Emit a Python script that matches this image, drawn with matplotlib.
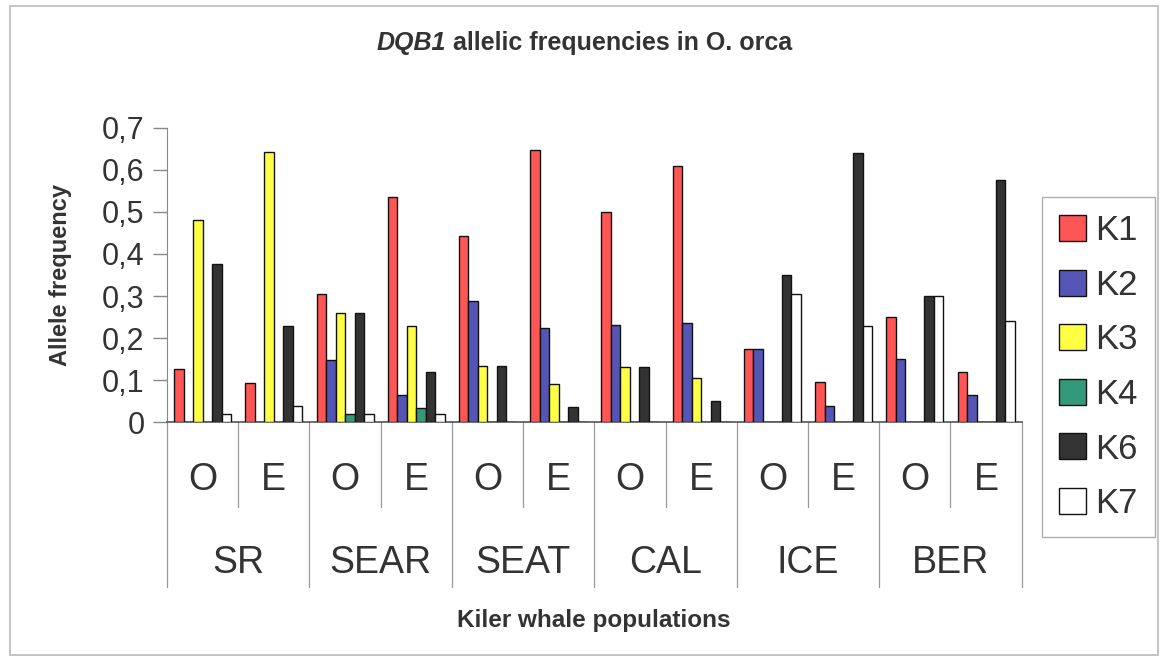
import matplotlib.pyplot as plt
from matplotlib.patches import Rectangle
import matplotlib.transforms as mtransforms
import numpy as np

plt.rcParams['font.family'] = ['Liberation Sans', 'DejaVu Sans']

# populations and sample types
populations = ['SR', 'SEAR', 'SEAT', 'CAL', 'ICE', 'BER']
subgroups = ['O', 'E']
alleles = ['K1', 'K2', 'K3', 'K4', 'K6', 'K7']

# allele frequencies, one list per allele, order: SR-O, SR-E, SEAR-O, ... BER-E
k1 = [0.126, 0.093, 0.305, 0.535, 0.443, 0.648, 0.499, 0.609, 0.173, 0.095, 0.250, 0.118]
k2 = [0.0, 0.0, 0.147, 0.064, 0.287, 0.225, 0.232, 0.235, 0.173, 0.039, 0.151, 0.065]
k3 = [0.480, 0.643, 0.259, 0.228, 0.134, 0.090, 0.131, 0.104, 0.0, 0.0, 0.0, 0.0]
k4 = [0.0, 0.0, 0.018, 0.033, 0.0, 0.0, 0.0, 0.0, 0.0, 0.0, 0.0, 0.0]
k6 = [0.375, 0.229, 0.259, 0.119, 0.134, 0.035, 0.131, 0.049, 0.350, 0.640, 0.300, 0.575]
k7 = [0.020, 0.039, 0.018, 0.020, 0.0, 0.0, 0.0, 0.0, 0.304, 0.228, 0.300, 0.241]
series = [k1, k2, k3, k4, k6, k7]
colors = ['#FF5555', '#5555B5', '#FFFF44', '#33997A', '#333333', '#FFFFFF']

yticks = [0, 0.1, 0.2, 0.3, 0.4, 0.5, 0.6, 0.7]
ytick_labels = ['0', '0,1', '0,2', '0,3', '0,4', '0,5', '0,6', '0,7']

txt = '#333333'
fig = plt.figure(figsize=(11.65, 6.59), dpi=100)
fig.patches.append(Rectangle((0.009, 0.006), 0.985, 0.985, transform=fig.transFigure,
                             fill=False, edgecolor='#BBBBBB', linewidth=1.2))
ax = fig.add_axes([0.1433, 0.3596, 0.7337, 0.4462])

n = len(populations) * len(subgroups)
x = np.arange(n)
w = 1 / 7.5
for k, (vals, c) in enumerate(zip(series, colors)):
    ax.bar(x + (k - 2.5) * w, vals, width=w, color=c, edgecolor='#111111',
           linewidth=1.0, label=alleles[k], zorder=3)

ax.set_xlim(-0.5, n - 0.5)
ax.set_ylim(0, 0.7)
ax.set_yticks(yticks)
ax.set_yticklabels(ytick_labels, fontsize=22, color=txt)
ax.tick_params(axis='y', length=10, width=1, color='#888888', pad=6)
ax.set_xticks([])
for s in ['top', 'right']:
    ax.spines[s].set_visible(False)
ax.spines['left'].set_color('#888888')
ax.spines['bottom'].set_color('#555555')
ax.spines['bottom'].set_linewidth(1.2)

# multi-level category axis
trans = mtransforms.blended_transform_factory(ax.transData, ax.transAxes)
for i in range(n + 1):
    bottom = -0.561 if i % 2 == 0 else -0.289
    ax.plot([i - 0.5, i - 0.5], [0, bottom], color='#999999', lw=0.9,
            transform=trans, clip_on=False)
for i in range(n):
    ax.text(i, -0.197, subgroups[i % 2], transform=trans, ha='center', va='center',
            fontsize=27, color=txt)
for g, name in enumerate(populations):
    ax.text(2 * g + 0.5, -0.479, name, transform=trans, ha='center', va='center',
            fontsize=27, color=txt)

ax.text(-0.125, 0.5, 'Allele frequency', transform=ax.transAxes, rotation=90,
        ha='center', va='center', fontsize=17, fontweight='bold', color=txt)
fig.text(594 / 1165, 1 - 620 / 659, 'Kiler whale populations', ha='center', va='center',
         fontsize=17.5, fontweight='bold', color=txt)

fig.text(446 / 1165, 0.935, 'DQB1', ha='right', va='center', fontsize=18,
         fontweight='bold', style='italic', color=txt)
fig.text(446 / 1165, 0.935, ' allelic frequencies in O. orca', ha='left', va='center',
         fontsize=18, fontweight='bold', color=txt)

leg = fig.legend(loc='upper left', bbox_to_anchor=(1042 / 1165, 0.701), fontsize=25,
                 frameon=True, fancybox=False, edgecolor='#999999',
                 handlelength=0.78, handleheight=0.78, handletextpad=0.25,
                 labelspacing=0.62, borderpad=0.5, borderaxespad=0)
for t in leg.get_texts():
    t.set_color(txt)

fig.savefig('out.png', dpi=100)
